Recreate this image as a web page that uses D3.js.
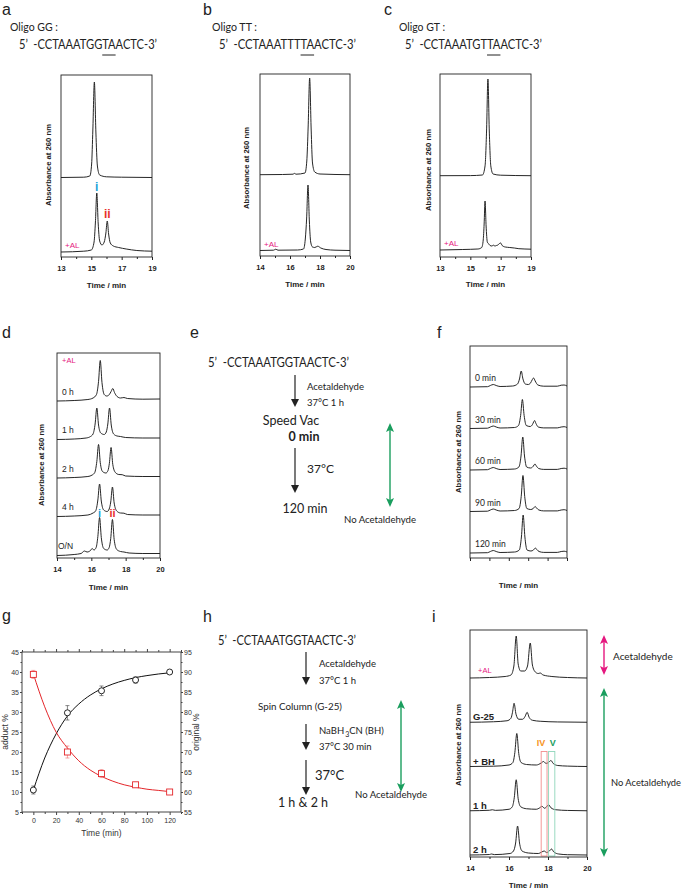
<!DOCTYPE html>
<html>
<head>
<meta charset="utf-8">
<script src="https://cdn.jsdelivr.net/npm/d3@7"></script>
<style>
  body { margin: 0; background: #fff; }
  svg { display: block; }
</style>
</head>
<body>
<div id="fig"></div>
<script>
// ---- data ----
// chromatograms: [time (min), absorbance (a.u.)]
const aGG = [[13,0.5],[14.5,0.8],[14.9,2],[15.02,14],[15.1,48],[15.2,96],[15.3,46],[15.4,12],[15.55,3],[16,1.2],[17,0.8],[19,0.5]];
const aGGAL = [[13,0],[14.5,0.8],[15.0,2],[15.18,10],[15.27,30],[15.36,59],[15.45,29],[15.55,11],[15.7,7],[15.85,10],[15.96,19],[16.05,31],[16.14,18],[16.25,9],[16.45,6],[16.8,4.5],[17.3,3],[18,1.5],[19,0.8]];
const bTT = [[14,0.3],[15.5,0.5],[16.2,0.8],[16.3,1.6],[16.4,0.8],[17.0,2],[17.12,14],[17.21,48],[17.31,97],[17.41,46],[17.5,12],[17.65,3],[18,1],[20,0.3]];
const bTTAL = [[14,0.5],[14.9,0.8],[15.05,1.8],[15.2,0.8],[16.5,1],[16.9,2],[17.02,12],[17.11,33],[17.2,66],[17.29,30],[17.38,9],[17.5,4],[17.65,3.5],[17.85,4.8],[18.05,3],[18.4,1.5],[19,0.8],[20,0.5]];
const cGT = [[13,0.3],[15,0.4],[15.8,1],[15.97,10],[16.07,45],[16.16,97],[16.25,45],[16.35,10],[16.5,2],[17,0.8],[19,0.3]];
const cGTAL = [[13,0],[14.5,0.5],[15.5,1],[15.75,2.5],[15.85,10],[15.91,26],[15.97,49],[16.04,24],[16.12,8],[16.22,6],[16.3,4.5],[16.42,4],[16.52,4.8],[16.62,4],[16.72,4.5],[16.82,5],[16.92,6.5],[17.0,7],[17.1,4.5],[17.3,3],[17.6,2.5],[17.9,2],[18.2,1.3],[18.6,1],[19,0.8]];

const d0h = [[14,-1.5],[15,-1],[15.8,0],[16.1,1.5],[16.3,5],[16.42,18],[16.52,39],[16.62,17],[16.75,5],[16.9,3.5],[17.05,5],[17.15,8],[17.25,11],[17.35,7],[17.5,3],[17.7,1.5],[17.9,2],[18.1,1],[19,0.3],[20,0.5]];
const d1h = [[14,-1.5],[15,-1],[15.7,0],[15.95,1.5],[16.1,4],[16.22,14],[16.32,30],[16.42,13],[16.55,5],[16.75,3.5],[16.87,6],[16.96,14],[17.06,30],[17.16,13],[17.3,4],[17.5,2],[17.7,1.5],[18,0.5],[19,0],[20,0]];
const d2h = [[14,-1.5],[15,-1],[15.8,0],[16.05,1.5],[16.2,4],[16.32,15],[16.42,32],[16.52,14],[16.65,5],[16.85,3.5],[16.97,6],[17.05,13],[17.15,29],[17.25,12],[17.4,4],[17.6,2],[17.8,1.8],[18,0.5],[19,0],[20,0]];
const d4h = [[14,-1.5],[15,-1],[15.8,0],[16.1,2],[16.25,4],[16.38,15],[16.48,31],[16.58,14],[16.72,5],[16.92,3.5],[17.04,6],[17.13,13],[17.23,28],[17.33,12],[17.48,4],[17.7,2],[17.9,1.8],[18.1,0.5],[19,0],[20,0]];
const dON = [[14,-2],[15,-1],[15.4,0],[15.6,2.5],[15.75,1.5],[15.95,3],[16.05,5],[16.15,3.5],[16.28,6],[16.38,17],[16.48,36],[16.58,16],[16.72,5],[16.92,3.5],[17.04,6],[17.13,15],[17.23,34],[17.33,14],[17.48,4],[17.7,2],[17.9,1.5],[18.2,0.5],[19,0],[20,0]];

const f0 = [[14,0],[14.9,0.3],[15.05,1.5],[15.2,2.5],[15.35,1.5],[15.55,0.5],[16.2,1],[16.45,3],[16.55,8],[16.64,16],[16.73,8],[16.85,3],[17.0,2.5],[17.12,4],[17.2,7],[17.28,9],[17.36,6],[17.5,2],[17.8,0.8],[18.5,0.8],[18.7,1.8],[18.85,2],[19,1]];
const f30 = [[14,0],[14.9,0.3],[15.05,1.5],[15.2,2.5],[15.35,1.5],[15.55,0.5],[16.3,1],[16.5,3],[16.61,13],[16.7,29],[16.79,13],[16.9,3],[17.1,2],[17.22,4],[17.28,6.5],[17.33,8],[17.4,5],[17.52,1.5],[17.8,0.6],[18.5,0.6],[18.7,1.5],[18.85,1.8],[19,1]];
const f60 = [[14,0],[14.9,0.3],[15.05,1.5],[15.2,2.5],[15.35,1.5],[15.55,0.5],[16.3,1],[16.52,3],[16.63,14],[16.72,33],[16.81,14],[16.92,3],[17.12,2],[17.25,3.5],[17.3,5],[17.35,6],[17.42,4],[17.54,1.5],[17.8,0.6],[18.5,0.6],[18.7,1.5],[18.85,1.8],[19,1]];
const f90 = [[14,0],[14.9,0.3],[15.05,1.5],[15.2,2.5],[15.35,1.5],[15.55,0.5],[16.3,1],[16.53,3],[16.64,15],[16.73,36],[16.82,15],[16.93,3],[17.13,2],[17.26,3],[17.31,4.2],[17.36,5],[17.43,3.5],[17.55,1.5],[17.8,0.6],[18.5,0.6],[18.7,1.5],[18.85,1.8],[19,1]];
const f120 = [[14,0],[14.9,0.3],[15.05,1.5],[15.2,2.5],[15.35,1.5],[15.55,0.5],[16.3,1],[16.54,3],[16.65,16],[16.74,38],[16.83,16],[16.94,3],[17.14,2],[17.27,3],[17.32,4.2],[17.37,5],[17.44,3.5],[17.56,1.5],[17.8,0.6],[18.5,0.6],[18.7,1.5],[18.85,1.8],[19,1]];

const iAL = [[14,0],[15,0.5],[15.8,1.5],[16.1,3],[16.25,12],[16.37,42],[16.47,14],[16.6,7],[16.8,7],[16.95,12],[17.09,35],[17.2,13],[17.35,6],[17.5,4.5],[17.6,5],[17.75,3],[18.2,1.5],[19,0.5],[20,0]];
const iG25 = [[14,0],[15.2,0.5],[15.9,1.5],[16.1,4],[16.18,10],[16.26,19],[16.36,8],[16.5,3],[16.7,3],[16.83,6],[16.93,10],[17.03,5],[17.2,2],[17.6,1],[18.5,0.3],[20,0]];
const iBH = [[14,0],[15.2,0.3],[16.0,1.5],[16.2,4],[16.3,14],[16.4,33],[16.5,13],[16.62,4],[16.9,2],[17.4,1.5],[17.65,3.5],[17.77,5],[17.9,3],[18.05,4.5],[18.15,6],[18.27,3],[18.5,1],[19,0.4],[20,0]];
const i1h = [[14,0],[15,0.5],[15.15,1],[15.3,0.4],[16.0,1.5],[16.17,4],[16.27,13],[16.37,31],[16.47,12],[16.6,4],[16.9,2],[17.4,1.5],[17.58,3],[17.69,4.5],[17.82,2.5],[17.93,4],[18.03,6],[18.15,3],[18.4,1],[19,0.3],[20,0]];
const i2h = [[14,0],[15,0.5],[15.1,1],[15.25,0.4],[16.05,1.5],[16.23,4],[16.34,12],[16.44,29],[16.54,12],[16.67,4],[17,2],[17.5,1.5],[17.68,3],[17.8,4],[17.93,2.5],[18.07,4],[18.18,6],[18.3,3],[18.55,1],[19,0.3],[20,0]];
const boxIV = [17.65, 17.95];
const boxV = [18.03, 18.35];

// panel g
const gTime = [0, 30, 60, 90, 120];
const adductPct = [10.5, 29.8, 35.3, 38.0, 40.0];
const adductErr = [1.0, 1.8, 1.2, 0.8, 0.4];
const originalPct = [89.4, 70.0, 64.6, 61.8, 60.0];
const originalErr = [1.0, 1.5, 1.0, 0.6, 0.4];
const fitTime = [0, 10, 20, 30, 40, 50, 60, 70, 80, 90, 100, 110, 120];
const adductFit = [10.5, 18.5, 24.5, 29.0, 32.0, 34.2, 35.8, 37.0, 37.9, 38.6, 39.1, 39.5, 39.8];
const originalFit = [89.5, 81.3, 75.0, 71.0, 67.8, 65.5, 63.9, 62.7, 61.8, 61.2, 60.7, 60.4, 60.1];

// text
const seqGG = "-CCTAAATGGTAACTC-3’";
const seqTT = "-CCTAAATTTTAACTC-3’";
const seqGT = "-CCTAAATGTTAACTC-3’";

// ---- drawing ----
const BODY = "Lato, 'Open Sans', sans-serif";
const ARIAL = "'Liberation Sans', Arial, sans-serif";
const GREEN = "#1a9e5e", PINK = "#e5187f", CYAN = "#1ba3d8", RED = "#e8322b", ORANGE = "#f7941d";

const svg = d3.select("#fig").append("svg")
  .attr("width", 685)
  .attr("height", 890);

function label(x, y, t, size, opts) {
  opts = opts || {};
  const el = svg.append("text")
    .attr("x", x)
    .attr("y", y)
    .attr("font-family", opts.family || BODY)
    .attr("font-size", size)
    .attr("font-weight", opts.weight || "normal")
    .attr("fill", opts.fill || "#222")
    .attr("text-anchor", opts.anchor || "start")
    .text(t);
  if (opts.width) el.attr("textLength", opts.width).attr("lengthAdjust", "spacingAndGlyphs");
  return el;
}

// 5' ... 3' sequence, fitted to the width seen in the figure, with optional underline
function sequence(x, y, main, width, ul) {
  const t = svg.append("text")
    .attr("x", x)
    .attr("y", y)
    .attr("font-family", BODY)
    .attr("font-size", 13)
    .attr("fill", "#222")
    .attr("textLength", width)
    .attr("lengthAdjust", "spacingAndGlyphs");
  t.append("tspan").text("5’");
  t.append("tspan").attr("dx", 7).text(main);
  if (ul) {
    const node = t.node();
    const x0 = node.getStartPositionOfChar(2 + ul[0]).x;
    const x1 = node.getEndPositionOfChar(2 + ul[1]).x;
    svg.append("line")
      .attr("x1", x0).attr("x2", x1)
      .attr("y1", y + 6).attr("y2", y + 6)
      .attr("stroke", "#222").attr("stroke-width", 1);
  }
}

function arrowDown(x, y1, y2) {
  svg.append("line")
    .attr("x1", x).attr("x2", x)
    .attr("y1", y1).attr("y2", y2 - 6)
    .attr("stroke", "#222").attr("stroke-width", 1.2);
  svg.append("path")
    .attr("d", `M${x - 4},${y2 - 8} L${x + 4},${y2 - 8} L${x},${y2} Z`)
    .attr("fill", "#222");
}

function doubleArrow(x, y1, y2, color) {
  svg.append("line")
    .attr("x1", x).attr("x2", x)
    .attr("y1", y1 + 6).attr("y2", y2 - 6)
    .attr("stroke", color).attr("stroke-width", 1.4);
  svg.append("path")
    .attr("d", `M${x},${y1} L${x + 4},${y1 + 9} L${x},${y1 + 7} L${x - 4},${y1 + 9} Z`)
    .attr("fill", color);
  svg.append("path")
    .attr("d", `M${x},${y2} L${x + 4},${y2 - 9} L${x},${y2 - 7} L${x - 4},${y2 - 9} Z`)
    .attr("fill", color);
}

function chrom(c) {
  const g = svg.append("g");
  const x = d3.scaleLinear().domain(c.domain).range([c.left, c.right]);
  const lane = d3.scaleBand().domain(c.lanes.map(d => d.name)).range(c.laneRange);
  const amp = d3.scaleLinear().domain([0, 100]).range([0, 100]);

  g.append("clipPath").attr("id", "clip" + c.id)
    .append("rect")
    .attr("x", c.left).attr("y", c.top)
    .attr("width", c.right - c.left).attr("height", c.bottom - c.top);

  c.lanes.forEach(l => {
    const base = lane(l.name) + lane.bandwidth();
    const line = d3.line()
      .x(d => x(d[0]))
      .y(d => base - amp(d[1]))
      .curve(d3.curveMonotoneX);
    g.append("path")
      .attr("d", line(l.data))
      .attr("fill", "none")
      .attr("stroke", "#1a1a1a")
      .attr("stroke-width", 0.95)
      .attr("clip-path", `url(#clip${c.id})`);
    (l.labels || []).forEach(t => {
      g.append("text")
        .attr("x", c.left + t.dx)
        .attr("y", base - t.up)
        .attr("font-family", t.family || ARIAL)
        .attr("font-size", t.size)
        .attr("font-weight", t.weight || "normal")
        .attr("fill", t.fill || "#222")
        .text(t.text);
    });
    (l.marks || []).forEach(m => {
      g.append("text")
        .attr("x", x(m.t))
        .attr("y", base - m.up)
        .attr("text-anchor", "middle")
        .attr("font-family", ARIAL)
        .attr("font-size", m.size)
        .attr("font-weight", "bold")
        .attr("fill", m.fill)
        .text(m.text);
    });
  });

  if (c.boxes) {
    const yTop = lane(c.boxes.fromLane) + lane.bandwidth() - 15;
    const yBot = lane(c.boxes.toLane) + lane.bandwidth() + 1;
    c.boxes.items.forEach(b => {
      g.append("rect")
        .attr("x", x(b.range[0])).attr("y", yTop)
        .attr("width", x(b.range[1]) - x(b.range[0])).attr("height", yBot - yTop)
        .attr("fill", "none").attr("stroke", b.stroke).attr("stroke-width", 0.9);
      g.append("text")
        .attr("x", (x(b.range[0]) + x(b.range[1])) / 2 + b.dx)
        .attr("y", yTop - 6)
        .attr("text-anchor", "middle")
        .attr("font-family", ARIAL).attr("font-size", 9).attr("font-weight", "bold")
        .attr("fill", b.fill)
        .text(b.text);
    });
  }

  g.append("rect")
    .attr("x", c.left).attr("y", c.top)
    .attr("width", c.right - c.left).attr("height", c.bottom - c.top)
    .attr("fill", "none").attr("stroke", "#222").attr("stroke-width", 0.9);

  const ax = g.append("g").attr("transform", `translate(0,${c.bottom})`)
    .call(d3.axisBottom(x).tickValues(c.major).tickSize(3).tickPadding(6)
      .tickFormat(c.labeled ? d3.format("d") : () => ""));
  ax.select(".domain").remove();
  ax.selectAll("line").attr("stroke", "#222");
  ax.selectAll("text")
    .attr("font-family", ARIAL).attr("font-size", 7.5)
    .attr("font-weight", "bold").attr("fill", "#222");
  if (c.minor) {
    const am = g.append("g").attr("transform", `translate(0,${c.bottom})`)
      .call(d3.axisBottom(x).tickValues(c.minor).tickSize(2).tickFormat(() => ""));
    am.select(".domain").remove();
    am.selectAll("line").attr("stroke", "#222");
  }

  g.append("text")
    .attr("x", (c.left + c.right) / 2)
    .attr("y", c.xLabelY)
    .attr("text-anchor", "middle")
    .attr("font-family", ARIAL).attr("font-size", 8)
    .attr("font-weight", "bold").attr("fill", "#222")
    .text("Time / min");

  g.append("text")
    .attr("transform", `translate(${c.yLabelX},${c.yLabelY}) rotate(-90)`)
    .attr("text-anchor", "middle")
    .attr("font-family", ARIAL).attr("font-size", 7.7)
    .attr("font-weight", "bold").attr("fill", "#222")
    .text("Absorbance at 260 nm");
}

// panel letters
[["a", 2, 15], ["b", 203, 15], ["c", 384, 15], ["d", 2, 338], ["e", 190, 338], ["f", 437, 338],
 ["g", 2, 621], ["h", 203, 622], ["i", 432, 622]].forEach(p => label(p[1], p[2], p[0], 16, { family: ARIAL }));

// ---- a, b, c ----
label(10, 31, "Oligo GG :", 11.5, { width: 48 });
label(212, 31, "Oligo TT :", 11.5, { width: 45 });
label(399, 31, "Oligo GT :", 11.5, { width: 46 });
sequence(19, 49, seqGG, 138, [10, 11]);
sequence(219, 49, seqTT, 137, [10, 11]);
sequence(405, 49, seqGT, 137, [10, 11]);

const alLabel = { text: "+AL", dx: 4, up: 4, size: 8, fill: PINK };

chrom({
  id: "a", domain: [13, 19], left: 61, right: 152, top: 75, bottom: 257,
  laneRange: [104, 252], major: [13, 15, 17, 19], minor: [14, 16, 18], labeled: true,
  xLabelY: 288, yLabelX: 51, yLabelY: 165,
  lanes: [
    { name: "GG", data: aGG },
    { name: "GG+AL", data: aGGAL, labels: [alLabel],
      marks: [{ t: 15.36, up: 61, text: "i", size: 12, fill: CYAN },
              { t: 16.05, up: 34, text: "ii", size: 12, fill: RED }] }
  ]
});

chrom({
  id: "b", domain: [14, 20], left: 260, right: 350, top: 74, bottom: 256,
  laneRange: [99, 251], major: [14, 16, 18, 20], minor: [15, 17, 19], labeled: true,
  xLabelY: 287, yLabelX: 249, yLabelY: 168,
  lanes: [
    { name: "TT", data: bTT },
    { name: "TT+AL", data: bTTAL, labels: [alLabel] }
  ]
});

chrom({
  id: "c", domain: [13, 19], left: 440, right: 531, top: 74, bottom: 257,
  laneRange: [102, 250], major: [13, 15, 17, 19], minor: [14, 16, 18], labeled: true,
  xLabelY: 287, yLabelX: 431, yLabelY: 170,
  lanes: [
    { name: "GT", data: cGT },
    { name: "GT+AL", data: cGTAL, labels: [alLabel] }
  ]
});

// ---- d ----
const dLab = t => ({ text: t, dx: 5, up: 5, size: 8.5, family: ARIAL });
chrom({
  id: "d", domain: [14, 20], left: 57, right: 160, top: 353, bottom: 558,
  laneRange: [361, 553.5], major: [14, 16, 18, 20], minor: [15, 17, 19], labeled: true,
  xLabelY: 590, yLabelX: 44, yLabelY: 465,
  lanes: [
    { name: "0 h", data: d0h, labels: [dLab("0 h"), { text: "+AL", dx: 5, up: 37, size: 7.5, fill: PINK }] },
    { name: "1 h", data: d1h, labels: [dLab("1 h")] },
    { name: "2 h", data: d2h, labels: [dLab("2 h")] },
    { name: "4 h", data: d4h, labels: [dLab("4 h")] },
    { name: "O/N", data: dON, labels: [{ text: "O/N", dx: 1, up: 5, size: 8.5, family: ARIAL }],
      marks: [{ t: 16.48, up: 37, text: "i", size: 11, fill: CYAN },
              { t: 17.23, up: 37, text: "ii", size: 11, fill: RED }] }
  ]
});

// ---- e ----
sequence(208, 367, seqGG, 141, null);
arrowDown(295, 375, 407);
label(307, 390, "Acetaldehyde", 9.5, { width: 57 });
label(307, 406, "37°C 1 h", 9.5);
label(291, 425, "Speed Vac", 12.5, { anchor: "middle" });
label(304, 441, "0 min", 12.5, { anchor: "middle", weight: "bold" });
arrowDown(295, 448, 493);
label(307, 473, "37°C", 12);
label(305, 513, "120 min", 12.5, { anchor: "middle" });
doubleArrow(390, 423, 507, GREEN);
label(380, 523, "No Acetaldehyde", 9.5, { anchor: "middle", width: 72 });

// ---- f ----
const fLab = t => ({ text: t, dx: 5, up: 6, size: 8.5, family: BODY });
chrom({
  id: "f", domain: [14, 19], left: 470, right: 567, top: 346, bottom: 558,
  laneRange: [345.5, 553], major: [14, 15, 16, 17, 18, 19], minor: null, labeled: false,
  xLabelY: 588, yLabelX: 461, yLabelY: 452,
  lanes: [
    { name: "0", data: f0, labels: [fLab("0 min")] },
    { name: "30", data: f30, labels: [fLab("30 min")] },
    { name: "60", data: f60, labels: [fLab("60 min")] },
    { name: "90", data: f90, labels: [fLab("90 min")] },
    { name: "120", data: f120, labels: [fLab("120 min")] }
  ]
});

// ---- g ----
(function () {
  const left = 22, right = 181, top = 652, bottom = 812;
  const x = d3.scaleLinear().domain([-10, 130]).range([left, right]);
  const yL = d3.scaleLinear().domain([5, 45]).range([bottom, top]);
  const yR = d3.scaleLinear().domain([55, 95]).range([bottom, top]);
  const g = svg.append("g");
  const tickFont = sel => sel.selectAll("text").attr("font-family", ARIAL).attr("font-size", 7).attr("fill", "#333");
  const tidy = sel => { sel.select(".domain").remove(); sel.selectAll("line").attr("stroke", "#444"); };

  const xMaj = d3.range(0, 121, 20), xMin = d3.range(-10, 131, 10).filter(v => v % 20 !== 0);
  const yLMaj = d3.range(5, 46, 5), yLMin = d3.range(7.5, 45, 5);
  const yRMaj = d3.range(55, 96, 5), yRMin = d3.range(57.5, 95, 5);

  const bx = g.append("g").attr("transform", `translate(0,${bottom})`)
    .call(d3.axisBottom(x).tickValues(xMaj).tickSize(3).tickPadding(3));
  tidy(bx); tickFont(bx);
  tidy(g.append("g").attr("transform", `translate(0,${bottom})`)
    .call(d3.axisBottom(x).tickValues(xMin).tickSize(2).tickFormat(() => "")));
  tidy(g.append("g").attr("transform", `translate(0,${top})`)
    .call(d3.axisTop(x).tickValues(xMaj).tickSize(3).tickFormat(() => "")));
  tidy(g.append("g").attr("transform", `translate(0,${top})`)
    .call(d3.axisTop(x).tickValues(xMin).tickSize(2).tickFormat(() => "")));

  const ly = g.append("g").attr("transform", `translate(${left},0)`)
    .call(d3.axisLeft(yL).tickValues(yLMaj).tickSize(2).tickPadding(1));
  tidy(ly); tickFont(ly);
  tidy(g.append("g").attr("transform", `translate(${left},0)`)
    .call(d3.axisLeft(yL).tickValues(yLMin).tickSize(1.5).tickFormat(() => "")));
  const ry = g.append("g").attr("transform", `translate(${right},0)`)
    .call(d3.axisRight(yR).tickValues(yRMaj).tickSize(2).tickPadding(1));
  tidy(ry); tickFont(ry);
  tidy(g.append("g").attr("transform", `translate(${right},0)`)
    .call(d3.axisRight(yR).tickValues(yRMin).tickSize(1.5).tickFormat(() => "")));

  g.append("rect")
    .attr("x", left).attr("y", top).attr("width", right - left).attr("height", bottom - top)
    .attr("fill", "none").attr("stroke", "#444").attr("stroke-width", 1);

  const fitLine = y => d3.line().x((d, i) => x(fitTime[i])).y(d => y(d)).curve(d3.curveMonotoneX);
  g.append("path").attr("d", fitLine(yL)(adductFit))
    .attr("fill", "none").attr("stroke", "#111").attr("stroke-width", 1);
  g.append("path").attr("d", fitLine(yR)(originalFit))
    .attr("fill", "none").attr("stroke", "#e4262a").attr("stroke-width", 1);

  const errBars = (vals, errs, y, color) => {
    gTime.forEach((t, i) => {
      const cx = x(t), yt = y(vals[i] + errs[i]), yb = y(vals[i] - errs[i]);
      g.append("line").attr("x1", cx).attr("x2", cx).attr("y1", yt).attr("y2", yb)
        .attr("stroke", color).attr("stroke-width", 0.7);
      [yt, yb].forEach(yy => g.append("line")
        .attr("x1", cx - 2).attr("x2", cx + 2).attr("y1", yy).attr("y2", yy)
        .attr("stroke", color).attr("stroke-width", 0.7));
    });
  };
  errBars(adductPct, adductErr, yL, "#555");
  errBars(originalPct, originalErr, yR, "#f08080");

  g.selectAll("circle.adduct").data(gTime).join("circle")
    .attr("cx", d => x(d)).attr("cy", (d, i) => yL(adductPct[i])).attr("r", 3)
    .attr("fill", "#fff").attr("stroke", "#111").attr("stroke-width", 0.9);
  g.selectAll("rect.orig").data(gTime).join("rect")
    .attr("x", d => x(d) - 3).attr("y", (d, i) => yR(originalPct[i]) - 3)
    .attr("width", 6).attr("height", 6)
    .attr("fill", "#fff").attr("stroke", "#e4262a").attr("stroke-width", 0.9);

  g.append("text").attr("x", (left + right) / 2).attr("y", 836)
    .attr("text-anchor", "middle").attr("font-family", ARIAL).attr("font-size", 8.5)
    .attr("fill", "#333").text("Time (min)");
  g.append("text").attr("transform", `translate(8,732) rotate(-90)`)
    .attr("text-anchor", "middle").attr("font-family", ARIAL).attr("font-size", 8.5)
    .attr("fill", "#333").text("adduct %");
  g.append("text").attr("transform", `translate(199,732) rotate(-90)`)
    .attr("text-anchor", "middle").attr("font-family", ARIAL).attr("font-size", 8.5)
    .attr("fill", "#333").text("original %");
})();

// ---- h ----
sequence(218, 645, seqGG, 138, null);
arrowDown(306, 652, 685);
label(319, 667, "Acetaldehyde", 9.5, { width: 57 });
label(319, 684, "37°C 1 h", 9.5);
label(258, 710, "Spin Column (G-25)", 9.5, { width: 84 });
arrowDown(306, 724, 750);
const nab = label(319, 734, "NaBH", 9.5);
nab.append("tspan").attr("font-size", 7).attr("dy", 3).attr("dx", 1).text("3");
nab.append("tspan").attr("dy", -3).text("CN (BH)");
label(319, 750, "37°C 30 min", 9.5);
arrowDown(306, 760, 795);
label(315, 780, "37°C", 13);
label(303, 807, "1 h & 2 h", 12.5, { anchor: "middle" });
doubleArrow(401, 700, 792, GREEN);
label(391, 798, "No Acetaldehyde", 9.5, { anchor: "middle", width: 72 });

// ---- i ----
const iLab = t => ({ text: t, dx: 3, up: 2, size: 9.5, weight: "bold", family: ARIAL });
chrom({
  id: "i", domain: [14, 20], left: 470, right: 587, top: 630, bottom: 857,
  laneRange: [633.75, 855], major: [14, 16, 18, 20], minor: [15, 17, 19], labeled: true,
  xLabelY: 888, yLabelX: 461, yLabelY: 745,
  lanes: [
    { name: "AL", data: iAL, labels: [{ text: "+AL", dx: 8, up: 5, size: 7.5, fill: PINK }] },
    { name: "G-25", data: iG25, labels: [iLab("G-25")] },
    { name: "BH", data: iBH, labels: [iLab("+ BH")] },
    { name: "1h", data: i1h, labels: [iLab("1 h")] },
    { name: "2h", data: i2h, labels: [iLab("2 h")] }
  ],
  boxes: { fromLane: "BH", toLane: "2h", items: [
    { range: boxIV, stroke: "#f28c8c", fill: ORANGE, text: "IV", dx: -3 },
    { range: boxV, stroke: "#8fd6bb", fill: GREEN, text: "V", dx: 1 }
  ] }
});
doubleArrow(604, 635, 675, PINK);
label(613, 660, "Acetaldehyde", 10);
doubleArrow(604, 688, 857, GREEN);
label(611, 786, "No Acetaldehyde", 9.3, { width: 70 });
</script>
</body>
</html>
